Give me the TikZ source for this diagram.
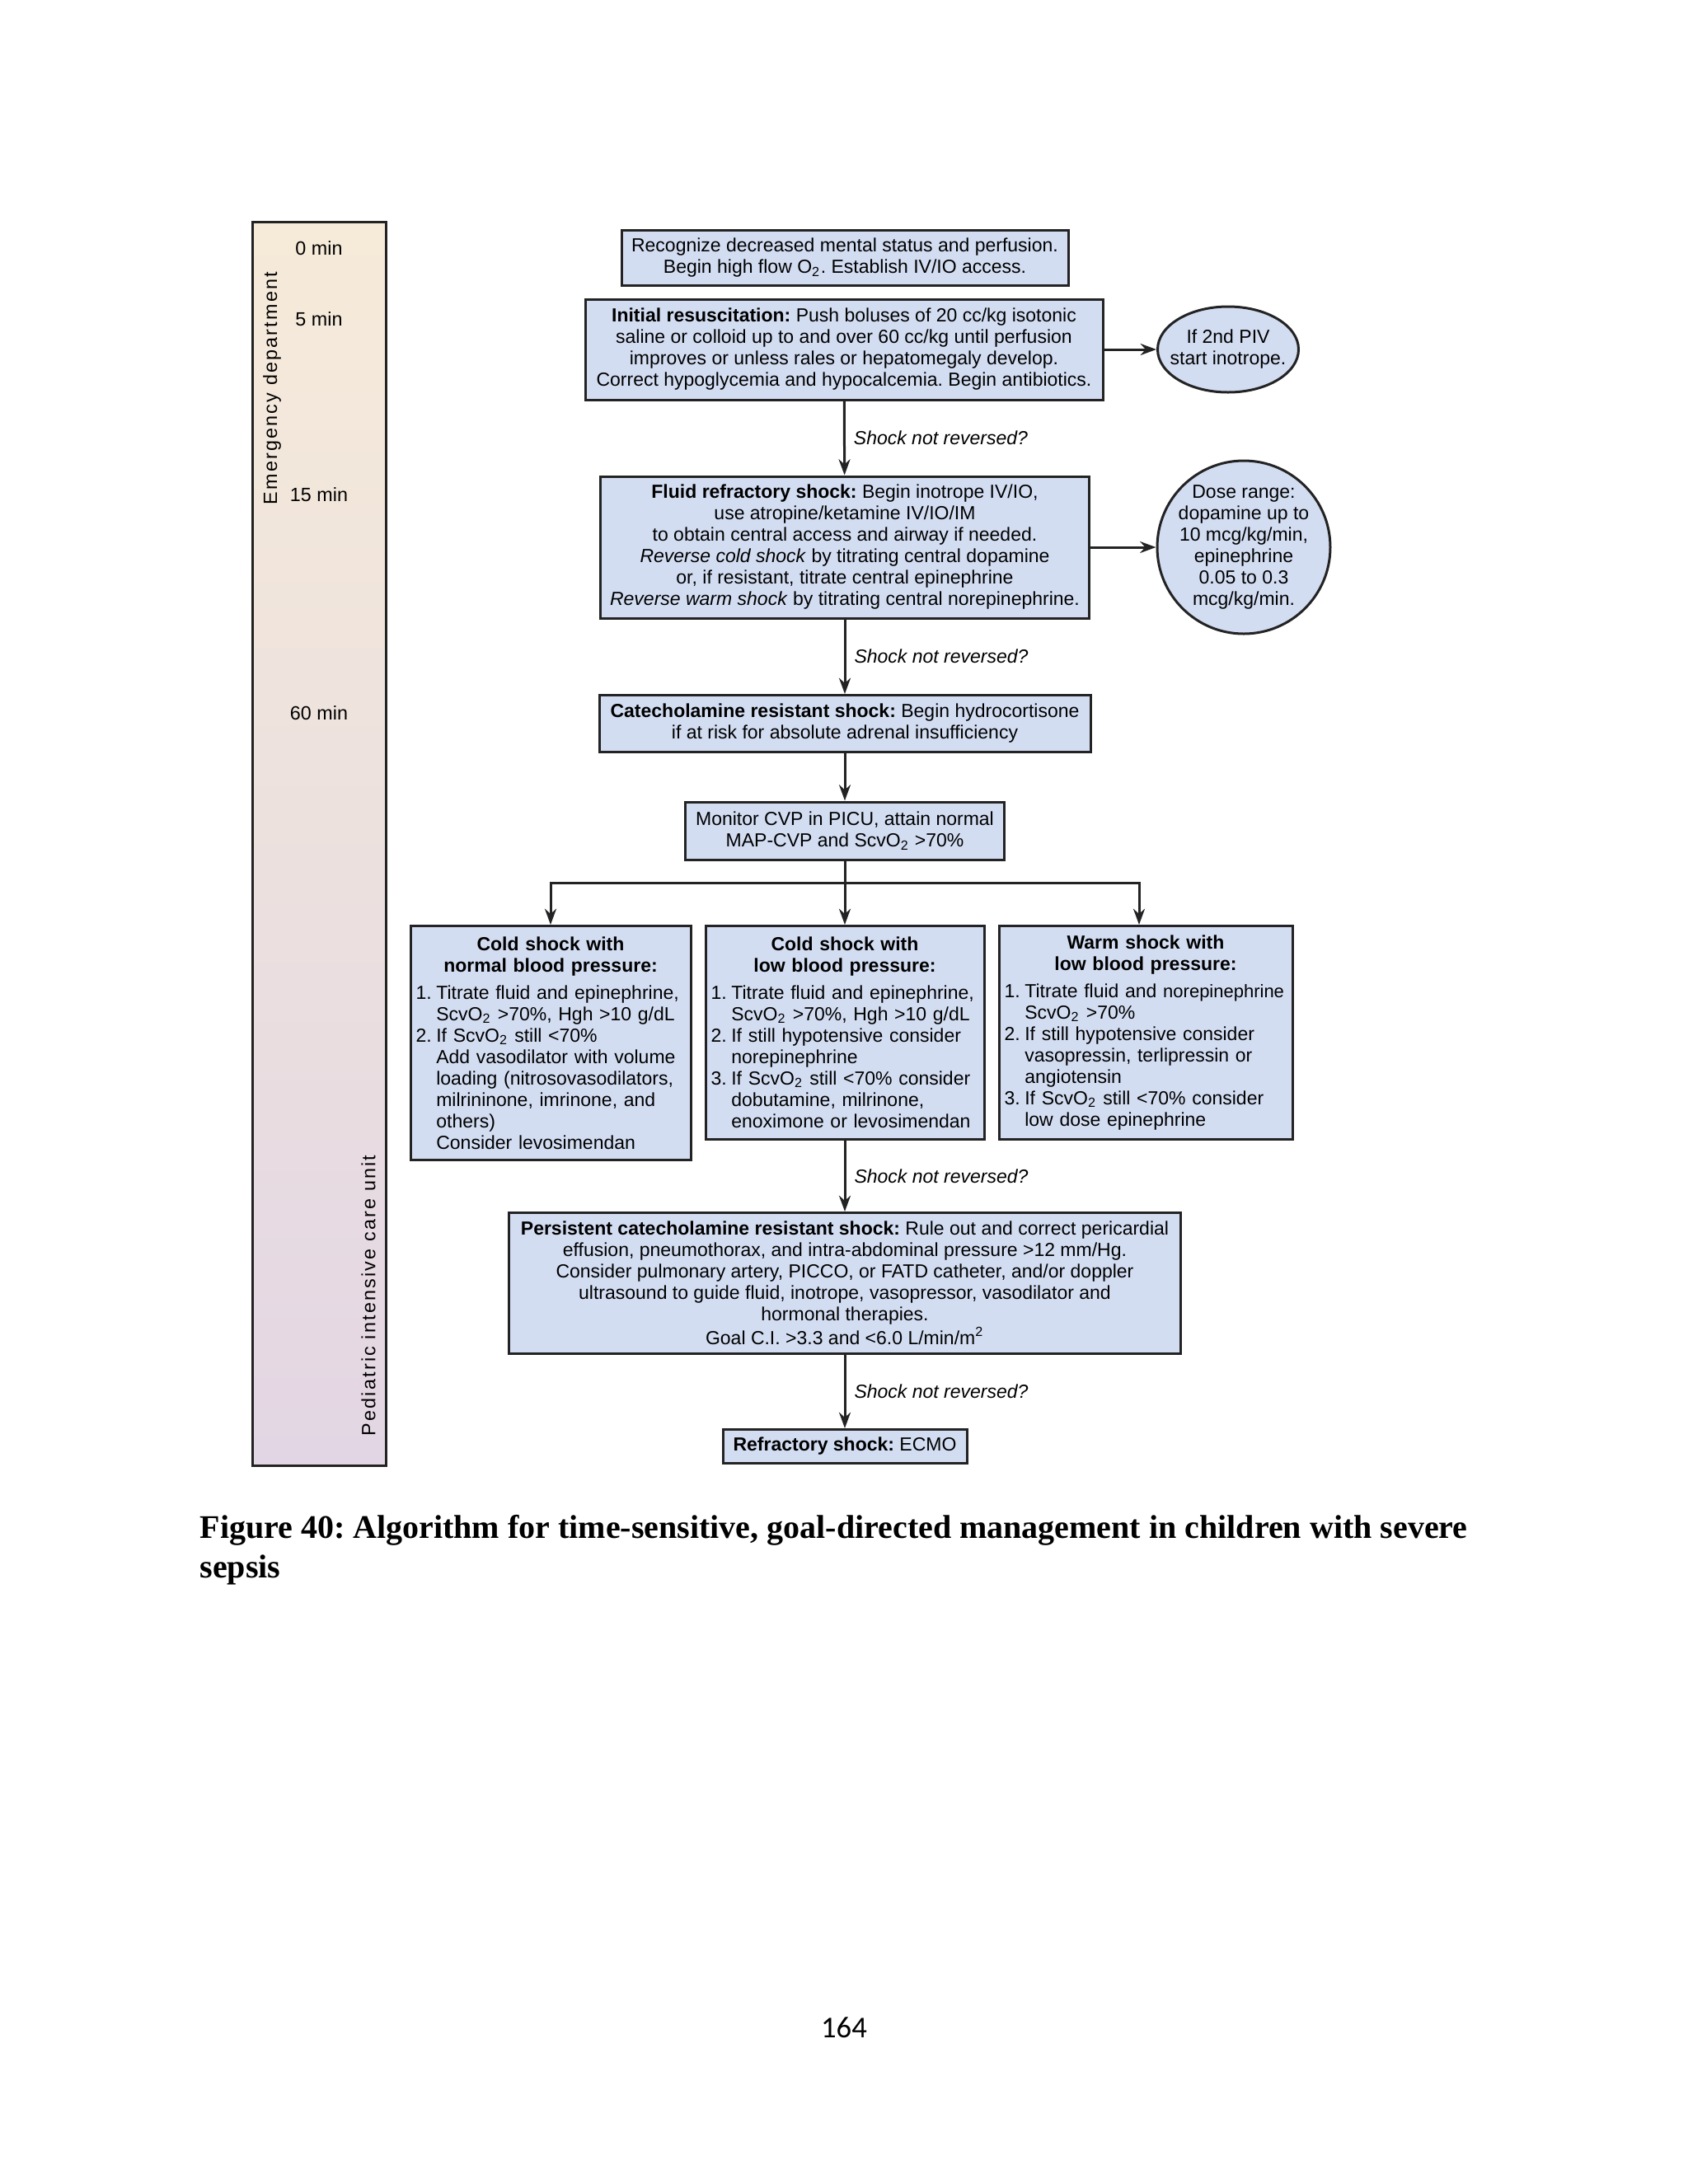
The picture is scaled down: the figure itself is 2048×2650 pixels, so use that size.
\documentclass[tikz,border=0pt]{standalone}
\usepackage{fontspec}
\usepackage{tikz}
\usetikzlibrary{calc}
\usetikzlibrary{arrows.meta,shapes.geometric,backgrounds}
\usetikzlibrary{positioning}
\usepackage{xcolor}
\newfontfamily\figfont{Liberation Sans}
\newfontfamily\zonefont[LetterSpace=9.5]{Liberation Sans}
\newfontfamily\capfont{Liberation Serif}
\newfontfamily\pgnfont{Carlito}
\definecolor{boxblue}{RGB}{211,221,242}
\definecolor{edtop}{RGB}{246,235,217}
\definecolor{picubot}{RGB}{227,214,228}
\definecolor{lineblk}{RGB}{35,35,35}
\newcommand{\Ot}{O\textsubscript{2}}
\newcommand{\itm}[1]{\makebox[7.4pt][l]{#1}}
\newcommand{\cnt}{\hspace*{7.4pt}}
\newcommand{\snr}{Shock not reversed?}
\frenchspacing

\begin{document}
\begin{tikzpicture}[x=0.3pt,y=-0.3pt,
	every node/.style={font=\figfont\fontsize{6.9}{7.8}\selectfont},
	stepbox/.style={draw=lineblk,fill=boxblue,line width=0.9pt,align=center,inner sep=2pt},
	listbox/.style={stepbox,align=left,anchor=north,inner xsep=2pt},
	bubble/.style={draw=lineblk,fill=boxblue,line width=0.9pt,ellipse,align=center,inner xsep=-6pt,inner ysep=-6pt},
	arr/.style={draw=lineblk,line width=0.9pt,-{Stealth[length=5.8pt,width=4.2pt]}},
	lbl/.style={midway,right,inner sep=3pt,font=\figfont\itshape\fontsize{6.9}{7.8}\selectfont},
	tick/.style={font=\figfont\fontsize{7}{8}\selectfont},
	zone/.style={rotate=90,font=\zonefont\fontsize{7}{8}\selectfont}]
	\fill[white] (0,0) rectangle (2048,2650);
	\useasboundingbox (0,0) rectangle (2048,2650);

	\shade[top color=edtop,bottom color=picubot] (306,269) rectangle (468,1778);
	\draw[lineblk,line width=0.9pt] (306,269) rectangle (468,1778);
	\node[tick] (tzero) at (387,301) {0 min};
	\node[tick] (tfive) at (387,387) {5 min};
	\node[tick] (tfifteen) at (387,600) {15 min};
	\node[tick] (tsixty) at (387,865) {60 min};
	\node[zone] (edlbl) at (330,471) {Emergency department};
	\node[zone] (piculbl) at (447,1572) {Pediatric intensive care unit};

	\node[stepbox,minimum width=162.6pt,minimum height=20.1pt] (recog) at (1025,313) {Recognize decreased mental status and perfusion.\\Begin high flow \Ot. Establish IV/IO access.};
	\node[stepbox,minimum width=188.4pt,minimum height=36.6pt] (initres) at (1024,424) {\textbf{Initial resuscitation:} Push boluses of 20 cc/kg isotonic\\saline or colloid up to and over 60 cc/kg until perfusion\\improves or unless rales or hepatomegaly develop.\\Correct hypoglycemia and hypocalcemia. Begin antibiotics.};
	\node[bubble,minimum width=51.3pt,minimum height=31.2pt] (piv) at (1490,424) {If 2nd PIV\\start inotrope.};
	\node[stepbox,minimum width=177.9pt,minimum height=51.6pt] (fluidref) at (1025,664) {\textbf{Fluid refractory shock:} Begin inotrope IV/IO,\\use atropine/ketamine IV/IO/IM\\to obtain central access and airway if needed.\\\textit{Reverse cold shock} by titrating central dopamine\\or, if resistant, titrate central epinephrine\\\textit{Reverse warm shock} by titrating central norepinephrine.};
	\node[bubble,minimum width=63pt,minimum height=63pt,inner xsep=-10pt,inner ysep=-10pt] (dose) at (1509,664) {Dose range:\\dopamine up to\\10 mcg/kg/min,\\epinephrine\\0.05 to 0.3\\mcg/kg/min.};
	\node[stepbox,minimum width=178.8pt,minimum height=20.7pt] (catres) at (1025,878) {\textbf{Catecholamine resistant shock:} Begin hydrocortisone\\if at risk for absolute adrenal insufficiency};
	\node[stepbox,minimum width=116.1pt,minimum height=21pt] (monitor) at (1025,1008) {Monitor CVP in PICU, attain normal\\MAP-CVP and Scv\Ot{} >70\%};

	\node[listbox,text width=98pt,minimum height=85.2pt] (coldnorm) at (668,1122) {\centering\textbf{Cold shock with\\normal blood pressure:}\par\vspace{2pt}\raggedright
		\itm{1.}Titrate fluid and epinephrine,\\
		\cnt Scv\Ot{} >70\%, Hgh >10 g/dL\\
		\itm{2.}If Scv\Ot{} still <70\%\\
		\cnt Add vasodilator with volume\\
		\cnt loading (nitrosovasodilators,\\
		\cnt milrininone, imrinone, and\\
		\cnt others)\\
		\cnt Consider levosimendan};
	\node[listbox,text width=97.4pt,minimum height=77.7pt] (coldlow) at (1025,1122) {\centering\textbf{Cold shock with\\low blood pressure:}\par\vspace{2pt}\raggedright
		\itm{1.}Titrate fluid and epinephrine,\\
		\cnt Scv\Ot{} >70\%, Hgh >10 g/dL\\
		\itm{2.}If still hypotensive consider\\
		\cnt norepinephrine\\
		\itm{3.}If Scv\Ot{} still <70\% consider\\
		\cnt dobutamine, milrinone,\\
		\cnt enoximone or levosimendan};
	\node[listbox,text width=102.8pt,minimum height=77.7pt] (warmlow) at (1390,1122) {\centering\textbf{Warm shock with\\low blood pressure:}\par\vspace{2pt}\raggedright
		\mbox{\itm{1.}Titrate fluid and {\fontsize{6.6}{7.8}\selectfont norepinephrine}}\\
		\cnt Scv\Ot{} >70\%\\
		\itm{2.}If still hypotensive consider\\
		\cnt vasopressin, terlipressin or\\
		\cnt angiotensin\\
		\itm{3.}If Scv\Ot{} still <70\% consider\\
		\cnt low dose epinephrine};

	\node[stepbox,minimum width=244.5pt,minimum height=51.3pt] (persist) at (1025,1557) {\textbf{Persistent catecholamine resistant shock:} Rule out and correct pericardial\\effusion, pneumothorax, and intra-abdominal pressure >12 mm/Hg.\\Consider pulmonary artery, PICCO, or FATD catheter, and/or doppler\\ultrasound to guide fluid, inotrope, vasopressor, vasodilator and\\hormonal therapies.\\Goal C.I. >3.3 and <6.0 L/min/m\textsuperscript{2}};
	\node[stepbox,minimum width=88.8pt,minimum height=12.3pt,inner ysep=1pt] (refrac) at (1025,1755) {\textbf{Refractory shock:} ECMO};

	\draw[arr] (initres) -- (piv);
	\draw[arr] (initres) -- node[lbl] {\snr} (fluidref);
	\draw[arr] (fluidref) -- (dose);
	\draw[arr] (fluidref) -- node[lbl] {\snr} (catres);
	\draw[arr] (catres) -- (monitor);
	\coordinate (split) at (1025,1071);
	\draw[lineblk,line width=0.9pt] (monitor) -- (split);
	\draw[arr] (split) -| (coldnorm);
	\draw[arr] (split) -- (coldlow);
	\draw[arr] (split) -| ($(warmlow.north)+(-8,0)$);
	\draw[arr] (coldlow) -- node[lbl] {\snr} (persist);
	\draw[arr] (persist) -- node[lbl] {\snr} (refrac);

	\node[anchor=north west,inner sep=0pt,align=left,font=\capfont\bfseries\fontsize{12}{14.4}\selectfont] (caption) at (242,1838) {Figure 40: Algorithm for time-sensitive, goal-directed management in children with severe\\sepsis};
	\node[font=\pgnfont\fontsize{11}{13}\selectfont] (pagenum) at (1024,2460) {164};
\end{tikzpicture}
\end{document}
